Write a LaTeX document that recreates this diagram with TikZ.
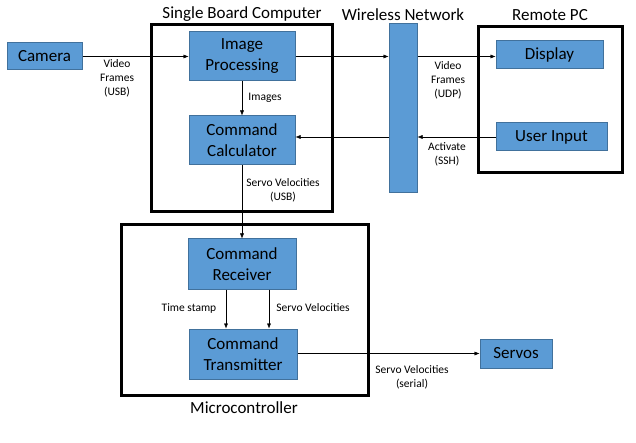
\documentclass[tikz,border=0pt]{standalone}
\usepackage{fontspec}
\setmainfont{Carlito}
\usepackage{tikz}
\usetikzlibrary{arrows.meta, positioning, calc}
\definecolor{blkfill}{HTML}{5B9BD5}
\definecolor{blkdraw}{HTML}{41719C}
\tikzset{blk/.style={draw=blkdraw, fill=blkfill, line width=1pt, align=center, inner sep=0pt, font=\fontsize{17}{21}\selectfont}}
\tikzset{grpbox/.style={draw=black, line width=3pt}}
\tikzset{lbl/.style={align=center, inner sep=0pt, font=\fontsize{11.5}{14}\selectfont}}
\tikzset{ttl/.style={inner sep=0pt, font=\fontsize{17}{20}\selectfont}}
\begin{document}
\begin{tikzpicture}[x=1pt, y=-1pt, >={Latex[length=5pt,width=4pt]}]
                    \useasboundingbox[fill=white] (0, 0) rectangle (636, 443);

                    % group outlines
                    \draw[grpbox] (151, 25) rectangle (332, 212);
                    \draw[grpbox] (478, 27) rectangle (622, 173);
                    \draw[grpbox] (121, 225) rectangle (368, 395);

                    \node[ttl] (sbc) at (242, 14) {Single Board Computer};
                    \node[ttl] (wnt) at (403, 15) {Wireless Network};
                    \node[ttl] (rpc) at (550, 15) {Remote PC};
                    \node[ttl] (mcu) at (244, 408) {Microcontroller};

                    % blocks
                    \node[blk, minimum width=75, minimum height=27] (cam) at (44.5, 56.5) {Camera};
                    \node[blk, minimum width=106, minimum height=49] (imp) at (242, 56.5) {Image\\Processing};
                    \node[blk, minimum width=106, minimum height=49] (cal) at (242, 140.5) {Command\\Calculator};
                    \node[blk, minimum width=28, minimum height=169] (net) at (403, 108.5) {};
                    \node[blk, minimum width=107, minimum height=28] (dsp) at (549.5, 55) {Display};
                    \node[blk, minimum width=111, minimum height=28] (usr) at (551.5, 137) {User Input};
                    \node[blk, minimum width=108, minimum height=50] (rcv) at (242, 264) {Command\\Receiver};
                    \node[blk, minimum width=108, minimum height=50] (trm) at (243, 354) {Command\\Transmitter};
                    \node[blk, minimum width=72, minimum height=29] (srv) at (516, 353.5) {Servos};

                    % connectors
                    \draw
                    (cam.east |- imp) edge[->] (imp.west)
                    (imp.east) edge[->] (imp.east -| net.west)
                    (net.east |- imp) edge[->] (dsp.west |- imp)
                    (usr.west) edge[->] (usr.west -| net.east)
                    (usr -| net.west) edge[->] (usr -| cal.east)
                    (imp.south) edge[->] (cal.north)
                    (cal.south) edge[->] (rcv.north)
                    ([xshift=-16pt]rcv.south) edge[->] ([xshift=-16pt]rcv.south |- trm.north)
                    ([xshift=27pt]rcv.south) edge[->] ([xshift=27pt]rcv.south |- trm.north)
                    (trm.east |- srv) edge[->] (srv.west);

                    % labels
                    \node[lbl] (vfu) at (117, 78) {Video\\Frames\\(USB)};
                    \node[lbl] (img) at (265, 98) {Images};
                    \node[lbl] (svu) at (283, 190) {Servo Velocities\\(USB)};
                    \node[lbl] (vfd) at (448, 80) {Video\\Frames\\(UDP)};
                    \node[lbl] (act) at (447, 154) {Activate\\(SSH)};
                    \node[lbl] (tms) at (189, 308) {Time stamp};
                    \node[lbl] (svm) at (313, 308) {Servo Velocities};
                    \node[lbl] (svs) at (412, 377) {Servo Velocities\\(serial)};
                \end{tikzpicture}
\end{document}
